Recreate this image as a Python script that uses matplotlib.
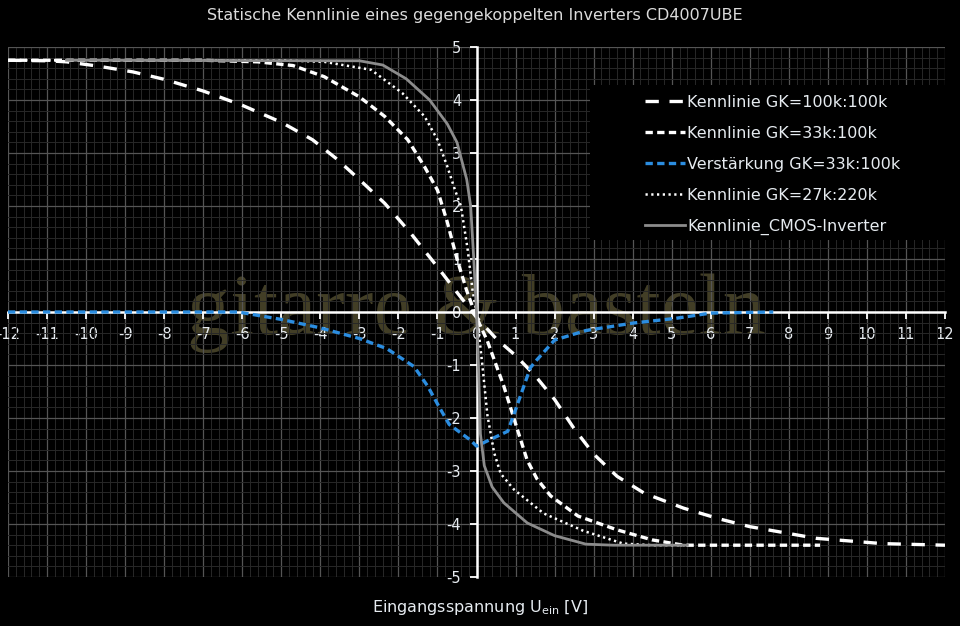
import matplotlib.pyplot as plt
from matplotlib.patches import Rectangle
from matplotlib.ticker import MultipleLocator

plt.rcParams['axes.unicode_minus'] = False

# Kennlinie GK=100k:100k
x_100k = [-12, -11, -10.5, -9.7, -8.8, -8, -7, -6, -5, -4.2, -3.6, -3, -2.35, -1.7, -1, -0.5, 0,
          0.5, 1.0, 1.5, 2.0, 2.5, 3.0, 3.6, 4.3, 5.3, 6.2, 7, 8.7, 10.4, 12]
y_100k = [4.75, 4.74, 4.72, 4.64, 4.53, 4.39, 4.17, 3.9, 3.58, 3.25, 2.9, 2.5, 2.05, 1.5, 0.85, 0.37, -0.1,
          -0.5, -0.82, -1.2, -1.65, -2.2, -2.68, -3.1, -3.42, -3.7, -3.9, -4.05, -4.27, -4.37, -4.4]

# Kennlinie GK=33k:100k
x_33k = [-12, -7, -5.6, -4.7, -3.9, -3.0, -2.35, -1.76, -1.33, -1.0, -0.75, -0.5, -0.25, 0, 0.28, 0.7,
         1.04, 1.3, 1.55, 1.9, 2.6, 3.6, 4.5, 5.3, 8.8]
y_33k = [4.75, 4.75, 4.72, 4.65, 4.44, 4.06, 3.69, 3.25, 2.74, 2.3, 1.7, 1.0, 0.4, -0.1, -0.55, -1.4,
         -2.2, -2.8, -3.15, -3.47, -3.85, -4.11, -4.3, -4.4, -4.4]

# Verstärkung GK=33k:100k
x_gain = [-12, -6.1, -5, -4, -3, -2.3, -1.6, -1.25, -0.95, -0.7, -0.15, 0, 0.8, 0.95, 1.38, 1.55,
          2.0, 2.8, 4.0, 5.1, 6.0, 7.6]
y_gain = [0, 0, -0.14, -0.3, -0.5, -0.69, -1.03, -1.4, -1.8, -2.12, -2.42, -2.53, -2.25, -1.95, -1.05, -0.9,
          -0.53, -0.35, -0.21, -0.12, -0.02, 0]

# Kennlinie GK=27k:220k
x_27k = [-12, -5, -3.9, -2.7, -1.9, -1.33, -1.0, -0.75, -0.55, -0.4, -0.23, -0.1, 0, 0.15, 0.28, 0.45,
         0.62, 0.96, 1.72, 2.74, 3.76, 4.5, 5.4]
y_27k = [4.75, 4.75, 4.72, 4.57, 4.13, 3.69, 3.25, 2.75, 2.3, 2.0, 1.2, 0.4, 0.0, -1.0, -1.95, -2.65,
         -3.05, -3.35, -3.8, -4.13, -4.37, -4.4, -4.4]

# Kennlinie_CMOS-Inverter
x_cmos = [-10.5, -3, -2.4, -1.8, -1.2, -0.75, -0.5, -0.25, -0.15, -0.07, 0, 0.05, 0.1, 0.2, 0.4,
          0.7, 1.3, 2.0, 2.8, 3.5, 5.4]
y_cmos = [4.75, 4.74, 4.66, 4.4, 4.0, 3.55, 3.2, 2.5, 2.0, 1.0, 0.0, -1.0, -2.3, -2.9, -3.3,
          -3.6, -3.98, -4.22, -4.38, -4.4, -4.4]

x_ticks = list(range(-12, 13))
y_ticks = list(range(-5, 6))

title = "Statische Kennlinie eines gegengekoppelten Inverters CD4007UBE"
xlabel = "Eingangsspannung U$_{\\mathrm{ein}}$ [V]"
watermark = "gitarre & basteln"

txt = '#e6ebf0'

fig = plt.figure(figsize=(9.6, 6.26), dpi=100, facecolor='black')
ax = fig.add_axes([8 / 960, 1 - 577 / 626, 937 / 960, 530 / 626], facecolor='black')

ax.set_xlim(-12, 12)
ax.set_ylim(-5, 5)
ax.xaxis.set_minor_locator(MultipleLocator(0.2))
ax.yaxis.set_minor_locator(MultipleLocator(0.2))
ax.set_xticks(x_ticks)
ax.set_yticks(y_ticks)
ax.grid(which='major', color='#555555', lw=0.9)
ax.grid(which='minor', color='#282828', lw=0.7)
ax.tick_params(which='minor', length=0)
ax.tick_params(which='major', colors='white', labelcolor=txt, labelsize=10.5,
               length=5, width=1.3, pad=6)

for s in ['top', 'right']:
    ax.spines[s].set_visible(False)
for s in ['left', 'bottom']:
    ax.spines[s].set_position(('data', 0))
    ax.spines[s].set_color('white')
    ax.spines[s].set_linewidth(1.8)
    ax.spines[s].set_zorder(2.5)

ax.text(0, -0.42, watermark, family='Liberation Serif', fontsize=62, color='#4a462b',
        ha='center', va='baseline', zorder=1, alpha=0.9)

ax.plot(x_100k, y_100k, color='white', lw=2.4, dashes=(4, 3.2), label='Kennlinie GK=100k:100k', zorder=3)
ax.plot(x_33k, y_33k, color='white', lw=2.4, dashes=(2.2, 1.3), label='Kennlinie GK=33k:100k', zorder=3)
ax.plot(x_gain, y_gain, color='#2b8de0', lw=2.4, dashes=(2.2, 1.3), label='Verstärkung GK=33k:100k', zorder=3)
ax.plot(x_27k, y_27k, color='white', lw=1.8, dashes=(0.9, 1.4), label='Kennlinie GK=27k:220k', zorder=3)
ax.plot(x_cmos, y_cmos, color='#8c8c8c', lw=2.0, label='Kennlinie_CMOS-Inverter', zorder=3)

# black box behind the legend
ax.add_patch(Rectangle((582 / 937, 337 / 530), 1 - 582 / 937, 155 / 530, transform=ax.transAxes,
                       facecolor='black', edgecolor='none', zorder=4))

leg = ax.legend(loc='upper left', bbox_to_anchor=(637 / 937, 482 / 530), fontsize=11.5, frameon=False,
                handlelength=2.5, handletextpad=0.15, labelspacing=1.0, borderpad=0.0,
                borderaxespad=0.0)
for t in leg.get_texts():
    t.set_color(txt)
leg.set_zorder(5)

fig.text(0.495, 0.976, title, color='#dcdcdc', fontsize=11.5, ha='center', va='center')
fig.text(0.5, 0.029, xlabel, color=txt, fontsize=11.5, ha='center', va='center')

fig.savefig('out.png', dpi=100, facecolor='black')
